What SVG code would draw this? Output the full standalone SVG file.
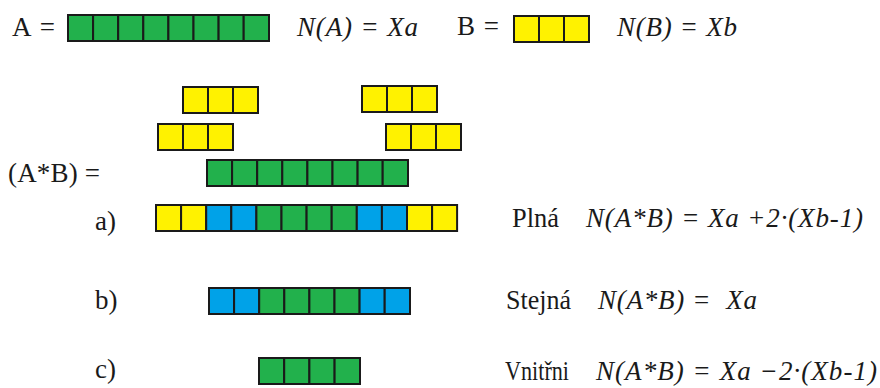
<svg xmlns="http://www.w3.org/2000/svg" width="880" height="388" viewBox="0 0 880 388">
<style>
text{font-family:'Liberation Serif','DejaVu Serif',serif;font-size:27px;fill:#1a1a1a}
.it{font-style:italic}
rect{stroke:#1a1a1a;stroke-width:2}
.g{fill:#22b14c}
.y{fill:#fff200}
.b{fill:#00a2e8}
</style>
<rect x="0" y="0" width="880" height="388" fill="#ffffff" style="stroke:none"/>
<g id="labels">
<text x="12" y="36" textLength="43" lengthAdjust="spacing">A =</text>
<text class="it" x="297" y="36" textLength="121" lengthAdjust="spacing">N(A) = Xa</text>
<text x="457" y="35" textLength="42" lengthAdjust="spacing">B =</text>
<text class="it" x="617" y="36" textLength="120" lengthAdjust="spacing">N(B) = Xb</text>
<text x="8" y="182" textLength="92" lengthAdjust="spacing">(A*B) =</text>
<text x="95" y="230">a)</text>
<text x="512" y="227" textLength="47" lengthAdjust="spacingAndGlyphs">Plná</text>
<text class="it" x="586" y="227" textLength="277" lengthAdjust="spacing">N(A*B) = Xa +2·(Xb-1)</text>
<text x="95" y="309">b)</text>
<text x="506" y="309" textLength="65" lengthAdjust="spacingAndGlyphs">Stejná</text>
<text class="it" x="598" y="309" textLength="159" lengthAdjust="spacing">N(A*B) =&#160; Xa</text>
<text x="95" y="378">c)</text>
<text x="505" y="380" textLength="64" lengthAdjust="spacingAndGlyphs">Vnitřni</text>
<text class="it" x="596" y="380" textLength="281" lengthAdjust="spacing">N(A*B) = Xa −2·(Xb-1)</text>
</g>
<g id="barA">
<rect class="g" x="68" y="15" width="25.1" height="26"/><rect class="g" x="93.1" y="15" width="25.1" height="26"/><rect class="g" x="118.2" y="15" width="25.1" height="26"/><rect class="g" x="143.3" y="15" width="25.1" height="26"/><rect class="g" x="168.4" y="15" width="25.1" height="26"/><rect class="g" x="193.5" y="15" width="25.1" height="26"/><rect class="g" x="218.6" y="15" width="25.1" height="26"/><rect class="g" x="243.7" y="15" width="25.3" height="26"/>
</g>
<g id="barB">
<rect class="y" x="514" y="16" width="25" height="26"/><rect class="y" x="539" y="16" width="25" height="26"/><rect class="y" x="564" y="16" width="25" height="26"/>
</g>
<g id="b1">
<rect class="y" x="183" y="87" width="25" height="26"/><rect class="y" x="208" y="87" width="25" height="26"/><rect class="y" x="233" y="87" width="25" height="26"/>
</g>
<g id="b2">
<rect class="y" x="362" y="86" width="25" height="26"/><rect class="y" x="387" y="86" width="25" height="26"/><rect class="y" x="412" y="86" width="25" height="26"/>
</g>
<g id="b3">
<rect class="y" x="158" y="124" width="25" height="26"/><rect class="y" x="183" y="124" width="25" height="26"/><rect class="y" x="208" y="124" width="25" height="26"/>
</g>
<g id="b4">
<rect class="y" x="386" y="124" width="25" height="26"/><rect class="y" x="411" y="124" width="25" height="26"/><rect class="y" x="436" y="124" width="25" height="26"/>
</g>
<g id="barAB">
<rect class="g" x="207" y="160" width="25.1" height="26"/><rect class="g" x="232.1" y="160" width="25.1" height="26"/><rect class="g" x="257.2" y="160" width="25.1" height="26"/><rect class="g" x="282.3" y="160" width="25.1" height="26"/><rect class="g" x="307.4" y="160" width="25.1" height="26"/><rect class="g" x="332.5" y="160" width="25.1" height="26"/><rect class="g" x="357.6" y="160" width="25.1" height="26"/><rect class="g" x="382.7" y="160" width="25.3" height="26"/>
</g>
<g id="rowA">
<rect class="y" x="156" y="205" width="25.1" height="26"/><rect class="y" x="181.1" y="205" width="25.1" height="26"/><rect class="b" x="206.2" y="205" width="25.1" height="26"/><rect class="b" x="231.3" y="205" width="25.1" height="26"/><rect class="g" x="256.4" y="205" width="25.1" height="26"/><rect class="g" x="281.5" y="205" width="25.1" height="26"/><rect class="g" x="306.6" y="205" width="25.1" height="26"/><rect class="g" x="331.7" y="205" width="25.1" height="26"/><rect class="b" x="356.8" y="205" width="25.1" height="26"/><rect class="b" x="381.9" y="205" width="25.1" height="26"/><rect class="y" x="407" y="205" width="25.1" height="26"/><rect class="y" x="432.1" y="205" width="25" height="26"/>
</g>
<g id="rowB">
<rect class="b" x="209" y="288" width="25.1" height="26"/><rect class="b" x="234.1" y="288" width="25.1" height="26"/><rect class="g" x="259.2" y="288" width="25.1" height="26"/><rect class="g" x="284.3" y="288" width="25.1" height="26"/><rect class="g" x="309.4" y="288" width="25.1" height="26"/><rect class="g" x="334.5" y="288" width="25.1" height="26"/><rect class="b" x="359.6" y="288" width="25.1" height="26"/><rect class="b" x="384.7" y="288" width="25.3" height="26"/>
</g>
<g id="rowC">
<rect class="g" x="259" y="358" width="25.2" height="26"/><rect class="g" x="284.2" y="358" width="25.2" height="26"/><rect class="g" x="309.4" y="358" width="25.2" height="26"/><rect class="g" x="334.6" y="358" width="25.4" height="26"/>
</g>
<g id="connectors"></g>
</svg>
